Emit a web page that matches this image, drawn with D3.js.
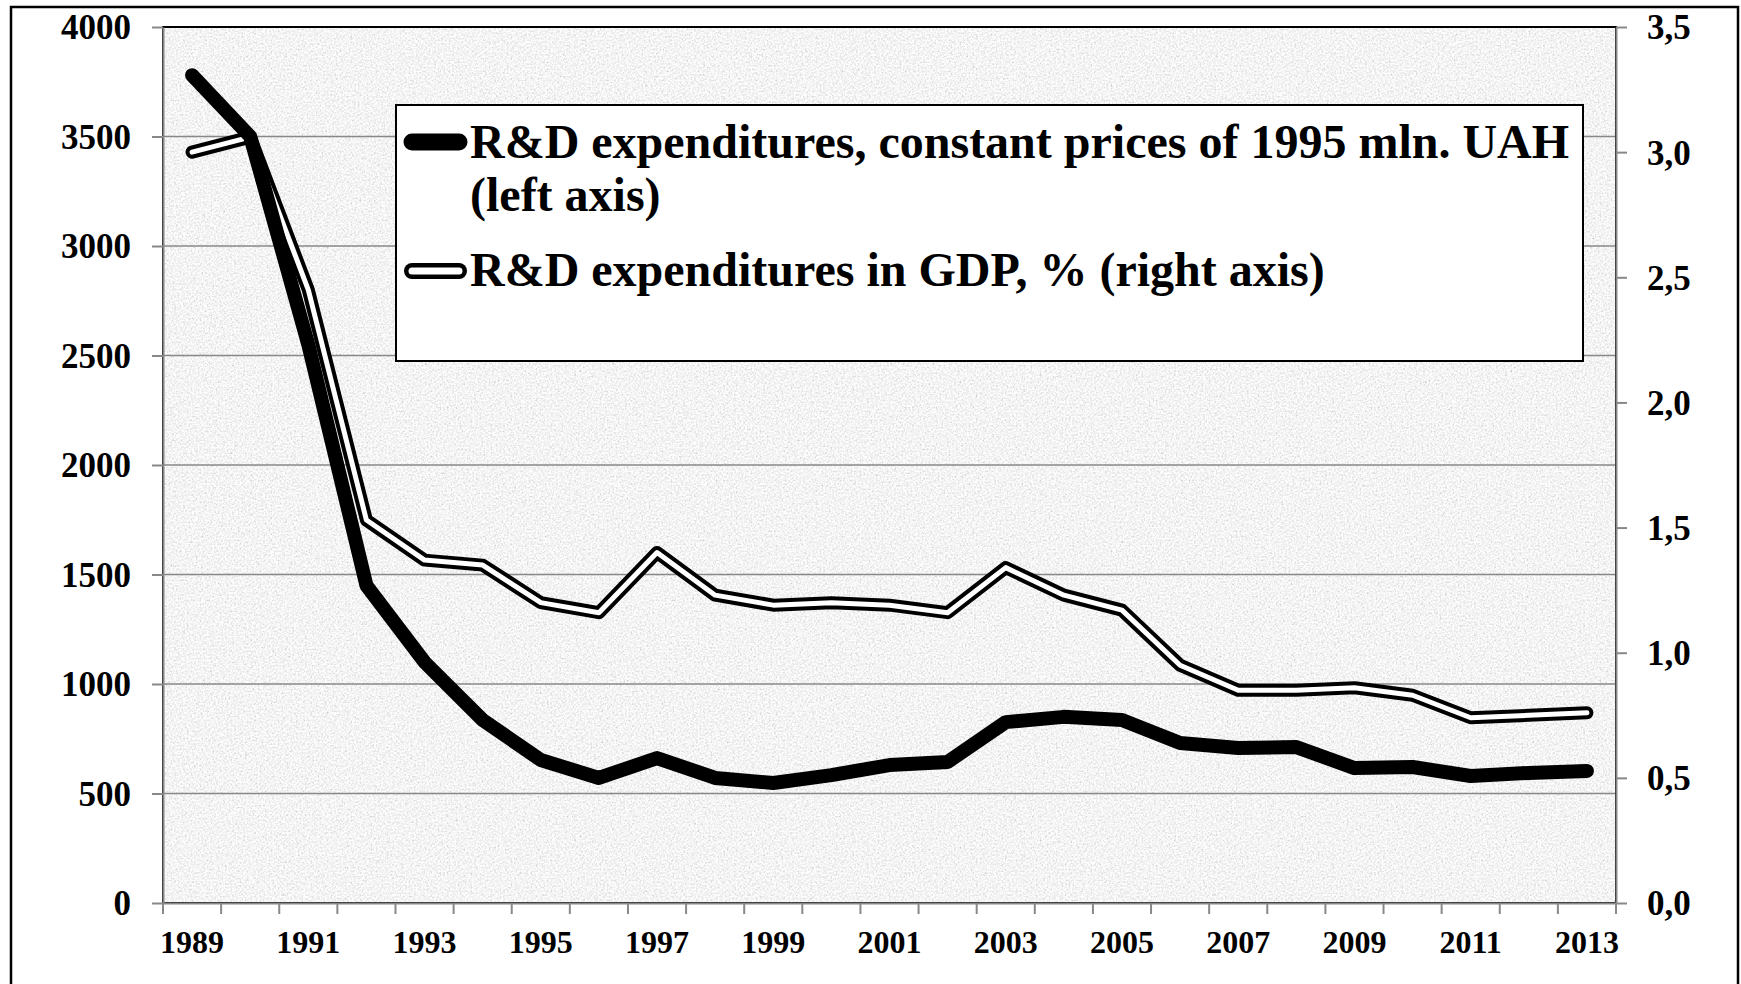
<!DOCTYPE html>
<html>
<head>
<meta charset="utf-8">
<script src="https://cdn.jsdelivr.net/npm/d3@7"></script>
<style>
  html, body { margin: 0; padding: 0; background: #ffffff; }
  svg { display: block; }
  text { font-family: "Liberation Serif", "Times New Roman", serif; font-weight: bold; fill: #000; }
</style>
</head>
<body>
<svg id="chart" width="1741" height="984"></svg>
<script>
// ---- data ----
const years = [1989,1990,1991,1992,1993,1994,1995,1996,1997,1998,1999,2000,2001,
               2002,2003,2004,2005,2006,2007,2008,2009,2010,2011,2012,2013];
const rdConstant = [3780,3500,2550,1450,1100,836,653,571,662,571,548,584,630,
                    644,826,850,836,731,708,712,616,621,580,594,603];
const rdShareGDP = [3.00,3.06,2.45,1.53,1.37,1.35,1.20,1.16,1.40,1.23,1.19,1.20,1.19,
                    1.16,1.34,1.23,1.17,0.95,0.85,0.85,0.86,0.83,0.74,0.75,0.76];
const leftTicks = [0,500,1000,1500,2000,2500,3000,3500,4000];
const rightTicks = [0,0.5,1.0,1.5,2.0,2.5,3.0,3.5];
const xLabelYears = [1989,1991,1993,1995,1997,1999,2001,2003,2005,2007,2009,2011,2013];
const legendLabels = [
  ["R&D expenditures, constant prices of 1995 mln. UAH", "(left axis)"],
  ["R&D expenditures in GDP, % (right axis)"]
];

// ---- layout ----
const svg = d3.select("#chart");
const P = { left: 163, right: 1616, top: 27, bottom: 903 };

const x = d3.scaleBand().domain(years).range([P.left, P.right]).padding(0);
const yL = d3.scaleLinear().domain([0, 4000]).range([P.bottom, P.top]);
const yR = d3.scaleLinear().domain([0, 3.5]).range([P.bottom, P.top]);
const cx = d => x(d) + x.bandwidth() / 2;

// outer frame
svg.append("rect").attr("x", 11).attr("y", 7).attr("width", 1727).attr("height", 1000)
   .attr("fill", "#fff").attr("stroke", "#000").attr("stroke-width", 2.5);

// textured background
const defs = svg.append("defs");
const f = defs.append("filter").attr("id", "granite")
  .attr("x", 0).attr("y", 0).attr("width", "100%").attr("height", "100%");
f.append("feTurbulence").attr("type", "fractalNoise").attr("baseFrequency", 0.55)
  .attr("numOctaves", 3).attr("seed", 7).attr("result", "t");
f.append("feColorMatrix").attr("type", "matrix")
  .attr("values", "0.33 0.33 0.33 0 0  0.33 0.33 0.33 0 0  0.33 0.33 0.33 0 0  0 0 0 0 1")
  .attr("result", "g");
const ct = f.append("feComponentTransfer");
["feFuncR","feFuncG","feFuncB"].forEach(fn =>
  ct.append(fn).attr("type", "linear").attr("slope", 1.1).attr("intercept", 0.36));

svg.append("rect").attr("x", P.left).attr("y", P.top)
   .attr("width", P.right - P.left).attr("height", P.bottom - P.top)
   .attr("fill", "#e9e9e9").attr("filter", "url(#granite)");

// gridlines
svg.append("g").selectAll("line").data(leftTicks.filter(v => v > 0 && v < 4000)).join("line")
  .attr("x1", P.left).attr("x2", P.right)
  .attr("y1", d => yL(d)).attr("y2", d => yL(d))
  .attr("stroke", "#888").attr("stroke-width", 1.6);

// plot border (top black)
svg.append("rect").attr("x", P.left).attr("y", P.top)
   .attr("width", P.right - P.left).attr("height", P.bottom - P.top)
   .attr("fill", "none").attr("stroke", "#000").attr("stroke-width", 2);

// axes
function styleAxis(g) {
  g.select(".domain").attr("stroke", "#888").attr("stroke-width", 2);
  g.selectAll(".tick line").attr("stroke", "#888").attr("stroke-width", 2);
  g.selectAll("text").attr("font-family", "'Liberation Serif', 'Times New Roman', serif")
    .attr("font-weight", "bold").attr("fill", "#000");
}

const gL = svg.append("g").attr("transform", `translate(${P.left},0)`)
  .call(d3.axisLeft(yL).tickValues(leftTicks).tickSize(11).tickPadding(21).tickSizeOuter(0).tickFormat(d3.format("d")));
styleAxis(gL);
gL.selectAll("text").attr("font-size", 35).attr("dy", "0.34em");

const fmtR = v => d3.format(".1f")(v).replace(".", ",");
const gR = svg.append("g").attr("transform", `translate(${P.right},0)`)
  .call(d3.axisRight(yR).tickValues(rightTicks).tickSize(11).tickPadding(20).tickSizeOuter(0).tickFormat(fmtR));
styleAxis(gR);
gR.selectAll("text").attr("font-size", 35).attr("dy", "0.34em");

// bottom axis: labels for odd years, ticks at category boundaries
const gB = svg.append("g").attr("transform", `translate(0,${P.bottom})`)
  .call(d3.axisBottom(x).tickValues(xLabelYears).tickSize(0).tickSizeOuter(0));
styleAxis(gB);
gB.selectAll(".tick line").remove();
gB.selectAll("text").attr("font-size", 32).attr("dy", null).attr("y", 50);
const boundaries = years.map(d => x(d)).concat([x.range()[1]]);
gB.append("g").selectAll("line").data(boundaries).join("line")
  .attr("x1", d => d).attr("x2", d => d).attr("y1", 0).attr("y2", 11)
  .attr("stroke", "#888").attr("stroke-width", 2);

// lines
const lineL = d3.line().x((d, i) => cx(years[i])).y(d => yL(d));
const lineR = d3.line().x((d, i) => cx(years[i])).y(d => yR(d));

const gLines = svg.append("g");
gLines.append("path").attr("d", lineR(rdShareGDP)).attr("fill", "none")
  .attr("stroke", "#000").attr("stroke-width", 13)
  .attr("stroke-linejoin", "round").attr("stroke-linecap", "round");
gLines.append("path").attr("d", lineR(rdShareGDP)).attr("fill", "none")
  .attr("stroke", "#fff").attr("stroke-width", 5)
  .attr("stroke-linejoin", "round").attr("stroke-linecap", "round");
gLines.append("path").attr("d", lineL(rdConstant)).attr("fill", "none")
  .attr("stroke", "#000").attr("stroke-width", 14)
  .attr("stroke-linejoin", "round").attr("stroke-linecap", "round");

// legend
const lg = svg.append("g");
lg.append("rect").attr("x", 396).attr("y", 105).attr("width", 1187).attr("height", 256)
  .attr("fill", "#fff").attr("stroke", "#000").attr("stroke-width", 2);
lg.append("line").attr("x1", 412).attr("x2", 459).attr("y1", 142).attr("y2", 142)
  .attr("stroke", "#000").attr("stroke-width", 17).attr("stroke-linecap", "round");
lg.append("line").attr("x1", 412).attr("x2", 459).attr("y1", 271).attr("y2", 271)
  .attr("stroke", "#000").attr("stroke-width", 16).attr("stroke-linecap", "round");
lg.append("line").attr("x1", 412).attr("x2", 459).attr("y1", 271).attr("y2", 271)
  .attr("stroke", "#fff").attr("stroke-width", 7).attr("stroke-linecap", "round");

lg.append("text").attr("x", 470).attr("y", 158).attr("font-size", 48).text(legendLabels[0][0]);
lg.append("text").attr("x", 470).attr("y", 211).attr("font-size", 48).text(legendLabels[0][1]);
lg.append("text").attr("x", 470).attr("y", 286).attr("font-size", 48).text(legendLabels[1][0]);
</script>
</body>
</html>
